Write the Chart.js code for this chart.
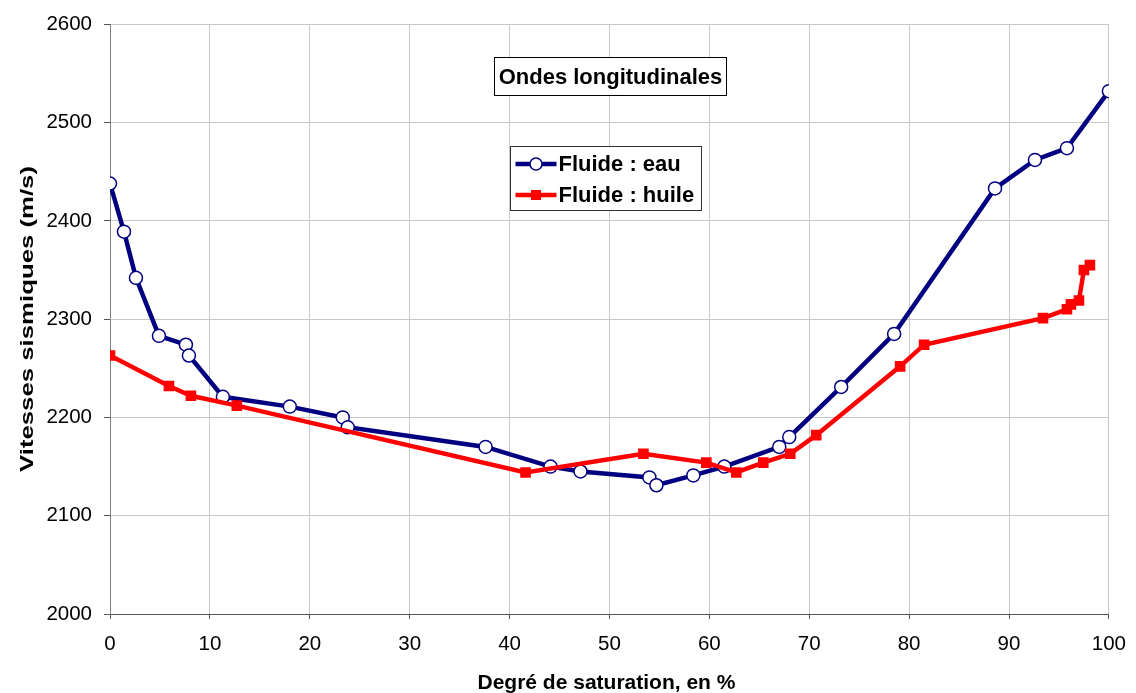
<!DOCTYPE html>
<html>
<head>
<meta charset="utf-8">
<script src="https://cdn.jsdelivr.net/npm/chart.js@4.4.1/dist/chart.umd.min.js"></script>
<style>
  html, body { margin: 0; padding: 0; background: #ffffff; }
  #wrap { width: 1136px; height: 693px; position: relative; }
</style>
</head>
<body>
<div id="wrap"><canvas id="c" width="1136" height="693"></canvas></div>
<script>
// Degré de saturation (%) and vitesses (m/s) — fluide : eau
const eauSaturation = [0, 1.4, 2.6, 4.9, 7.6, 7.9, 11.3, 18.0, 23.3, 23.8, 37.6, 44.1, 47.1, 54.0, 54.7, 58.4, 61.5, 67.0, 68.0, 73.2, 78.5, 88.6, 92.6, 95.8, 100];
const eauVitesse    = [2438, 2389, 2342, 2283, 2274, 2263, 2221, 2211, 2200, 2190, 2170, 2150, 2145, 2139, 2131, 2141, 2150, 2170, 2180, 2231, 2285, 2433, 2462, 2474, 2532];

// Fluide : huile
const huileSaturation = [0, 5.9, 8.1, 12.7, 41.6, 53.4, 59.7, 62.7, 65.4, 68.1, 70.7, 79.1, 81.5, 93.4, 95.8, 96.2, 97.0, 97.5, 98.1];
const huileVitesse    = [2263, 2232, 2222, 2212, 2144, 2163, 2154, 2144, 2154, 2163, 2182, 2252, 2274, 2301, 2310, 2315, 2319, 2350, 2355];

const xTicks = [0, 10, 20, 30, 40, 50, 60, 70, 80, 90, 100];
const yTicks = [2000, 2100, 2200, 2300, 2400, 2500, 2600];

const chartTitle = 'Ondes longitudinales';
const xTitle = 'Degré de saturation, en %';
const yTitle = 'Vitesses sismiques (m/s)';
const seriesNames = ['Fluide : eau', 'Fluide : huile'];

const FONT = '"Liberation Sans", Arial, sans-serif';

function pairs(xs, ys) { return xs.map((x, i) => ({ x: x, y: ys[i] })); }

// Axis titles, title box and legend box
const insetPlugin = {
  id: 'insets',
  afterDraw(chart) {
    const ctx = chart.ctx;
    const area = chart.chartArea;
    ctx.save();

    // X axis title
    ctx.fillStyle = '#000000';
    ctx.font = 'bold 21px ' + FONT;
    ctx.textAlign = 'center';
    ctx.textBaseline = 'alphabetic';
    ctx.fillText(xTitle, (area.left + area.right) / 2 - 3, 689);

    // Y axis title (rotated, elongated along its length)
    ctx.save();
    ctx.translate(33, 319);
    ctx.rotate(-Math.PI / 2);
    ctx.font = 'bold 18px ' + FONT;
    const natural = ctx.measureText(yTitle).width;
    ctx.scale(306 / natural, 1);
    ctx.textAlign = 'center';
    ctx.textBaseline = 'alphabetic';
    ctx.fillText(yTitle, 0, 0);
    ctx.restore();

    // Title box
    ctx.font = 'bold 22px ' + FONT;
    const bx = 494.5, by = 57.5, bw = 232, bh = 38;
    ctx.fillStyle = '#ffffff';
    ctx.fillRect(bx, by, bw, bh);
    ctx.strokeStyle = '#000000';
    ctx.lineWidth = 1;
    ctx.strokeRect(bx, by, bw, bh);
    ctx.fillStyle = '#000000';
    ctx.textAlign = 'center';
    ctx.textBaseline = 'middle';
    ctx.fillText(chartTitle, bx + bw / 2, by + bh / 2 + 1);

    // Legend box
    const lx = 510.5, ly = 146.5, lw = 191, lh = 64;
    ctx.fillStyle = '#ffffff';
    ctx.fillRect(lx, ly, lw, lh);
    ctx.strokeStyle = '#333333';
    ctx.lineWidth = 1;
    ctx.strokeRect(lx, ly, lw, lh);
    chart.data.datasets.forEach((ds, i) => {
      const cy = 164 + i * 31;
      ctx.strokeStyle = ds.borderColor;
      ctx.lineWidth = ds.borderWidth;
      ctx.beginPath();
      ctx.moveTo(lx + 5, cy);
      ctx.lineTo(lx + 46, cy);
      ctx.stroke();
      const mx = lx + 25.5;
      if (ds.pointStyle === 'rect') {
        ctx.fillStyle = ds.pointBackgroundColor;
        ctx.fillRect(mx - 5, cy - 5, 10, 10);
      } else {
        ctx.beginPath();
        ctx.arc(mx, cy, 6, 0, Math.PI * 2);
        ctx.fillStyle = ds.pointBackgroundColor;
        ctx.fill();
        ctx.lineWidth = 1.5;
        ctx.strokeStyle = ds.pointBorderColor;
        ctx.stroke();
      }
      ctx.fillStyle = '#000000';
      ctx.font = 'bold 22px ' + FONT;
      ctx.textAlign = 'left';
      ctx.textBaseline = 'middle';
      ctx.fillText(ds.label, lx + 48, cy + 1);
    });
    ctx.restore();
  }
};

new Chart(document.getElementById('c'), {
  type: 'scatter',
  data: {
    datasets: [
      {
        label: seriesNames[0],
        data: pairs(eauSaturation, eauVitesse),
        showLine: true,
        borderColor: '#000080',
        borderWidth: 4.5,
        pointStyle: 'circle',
        pointRadius: 6.5,
        pointHoverRadius: 6.5,
        pointBackgroundColor: '#ffffff',
        pointBorderColor: '#000080',
        pointBorderWidth: 1.5,
        tension: 0,
        order: 2
      },
      {
        label: seriesNames[1],
        data: pairs(huileSaturation, huileVitesse),
        showLine: true,
        borderColor: '#ff0000',
        borderWidth: 4.5,
        pointStyle: 'rect',
        pointRadius: 7.5,
        pointHoverRadius: 7.5,
        pointBackgroundColor: '#ff0000',
        pointBorderColor: '#ff0000',
        pointBorderWidth: 0,
        tension: 0,
        order: 1
      }
    ]
  },
  options: {
    responsive: false,
    animation: false,
    events: [],
    layout: { padding: { left: 0, right: 24, top: 22, bottom: 0 } },
    plugins: {
      legend: { display: false },
      title: { display: false },
      tooltip: { enabled: false }
    },
    scales: {
      x: {
        type: 'linear',
        min: 0, max: 100,
        afterBuildTicks: (axis) => { axis.ticks = xTicks.map(v => ({ value: v })); },
        afterFit: (axis) => { axis.height = 79; },
        grid: { color: '#c8c8c8', lineWidth: 1, tickLength: 5, tickColor: '#555555' },
        border: { color: '#555555', width: 1 },
        ticks: { color: '#000000', font: { family: FONT, size: 20.5, lineHeight: 1.5 }, padding: 10, maxRotation: 0,
                 callback: (v) => String(v) },
        title: { display: false }
      },
      y: {
        type: 'linear',
        min: 2000, max: 2600,
        afterBuildTicks: (axis) => { axis.ticks = yTicks.map(v => ({ value: v })); },
        afterFit: (axis) => { axis.width = 110; },
        grid: { color: '#c8c8c8', lineWidth: 1, tickLength: 6, tickColor: '#555555' },
        border: { color: '#808080', width: 1 },
        ticks: { color: '#000000', font: { family: FONT, size: 20.5 }, padding: 12,
                 callback: (v) => String(v) },
        title: { display: false }
      }
    }
  },
  plugins: [insetPlugin]
});
</script>
</body>
</html>
